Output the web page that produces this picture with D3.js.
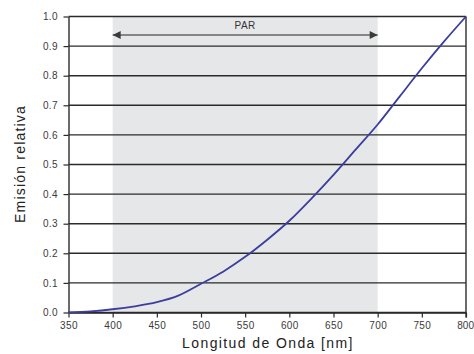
<!DOCTYPE html>
<html><head><meta charset="utf-8">
<script src="https://cdn.jsdelivr.net/npm/d3@7"></script>
<style>body{margin:0;background:#fff}svg{display:block}text{font-family:"Liberation Sans",Arial,sans-serif}</style>
</head><body><svg id="c" width="474" height="354"></svg>
<script>
const wavelengths = [350,375,400,425,450,475,500,525,550,575,600,625,650,675,700,725,750,775,800];
const emission   = [0.0,0.004,0.011,0.021,0.035,0.058,0.097,0.138,0.188,0.246,0.31,0.385,0.465,0.55,0.635,0.73,0.825,0.915,1.0];
const xTicks = [350,400,450,500,550,600,650,700,750,800];
const yTicks = [0,0.1,0.2,0.3,0.4,0.5,0.6,0.7,0.8,0.9,1.0];
const parRange = [400,700];
const parLabel = "PAR";
const xTitle = "Longitud de Onda [nm]";
const yTitle = "Emisión relativa";

const svg = d3.select("#c");
const L=68.5, R=466, T=16.5, B=312.5;
const x = d3.scaleLinear().domain([350,800]).range([L,R]);
const y = d3.scaleLinear().domain([0,1]).range([B,T]);

svg.append("rect").attr("x",x(parRange[0])).attr("y",T).attr("width",x(parRange[1])-x(parRange[0])).attr("height",B-T).attr("fill","#e6e7e8");

// grid
svg.append("g").selectAll("line").data(yTicks).join("line")
  .attr("x1",L).attr("x2",R).attr("y1",d=>y(d)).attr("y2",d=>y(d))
  .attr("stroke","#2b2b2b").attr("stroke-width",1.4);

// axes
const xAxis = svg.append("g").attr("transform",`translate(0,${B})`)
  .call(d3.axisBottom(x).tickValues(xTicks).tickSize(5).tickSizeOuter(0).tickFormat(d3.format("d")));
const yAxis = svg.append("g").attr("transform",`translate(${L},0)`)
  .call(d3.axisLeft(y).tickValues(yTicks).tickSize(5).tickSizeOuter(0).tickFormat(d3.format(".1f")));
[xAxis,yAxis].forEach(g=>{
  g.select(".domain").attr("stroke","#2b2b2b").attr("stroke-width",1.4);
  g.selectAll(".tick line").attr("stroke","#2b2b2b").attr("stroke-width",1.2);
  g.selectAll(".tick text").attr("fill","#3a3a3a").style("font-size","10px").style("letter-spacing","0.4px")
   .style("font-family","'Liberation Sans',Arial,sans-serif");
});
xAxis.selectAll(".tick text").attr("dy","0.85em");
xAxis.selectAll(".tick text").filter(d=>d===800).attr("text-anchor","end").attr("x",7.5).style("letter-spacing","0px");
yAxis.selectAll(".tick text").attr("x",-10.5);
// right border
svg.append("line").attr("x1",R).attr("x2",R).attr("y1",T).attr("y2",B+5).attr("stroke","#2b2b2b").attr("stroke-width",1.4);

// PAR arrow
const defs = svg.append("defs");
defs.append("marker").attr("id","ah").attr("viewBox","0 0 10 10").attr("refX",10).attr("refY",5)
  .attr("markerWidth",10).attr("markerHeight",8).attr("markerUnits","userSpaceOnUse").attr("orient","auto-start-reverse")
  .append("path").attr("d","M0,0L10,5L0,10Z").attr("fill","#3a3a3a");
svg.append("line").attr("x1",x(parRange[0])).attr("x2",x(parRange[1])).attr("y1",35).attr("y2",35)
  .attr("stroke","#666").attr("stroke-width",1.3)
  .attr("marker-start","url(#ah)").attr("marker-end","url(#ah)");
svg.append("text").attr("x",(x(parRange[0])+x(parRange[1]))/2).attr("y",29).attr("text-anchor","middle")
  .attr("fill","#333").style("font-size","10px").style("letter-spacing","0.5px").text(parLabel);

// curve
const line = d3.line().x((d,i)=>x(wavelengths[i])).y(d=>y(d)).curve(d3.curveMonotoneX);
svg.append("path").datum(emission).attr("d",line).attr("fill","none").attr("stroke","#3d3d9e").attr("stroke-width",1.8);

// titles
svg.append("text").attr("x",268).attr("y",347.5).attr("text-anchor","middle").attr("fill","#222")
  .style("font-size","14px").style("letter-spacing","1.4px").text(xTitle);
svg.append("text").attr("transform",`translate(24.5,164) rotate(-90)`).attr("text-anchor","middle").attr("fill","#222")
  .style("font-size","14px").style("letter-spacing","1.2px").text(yTitle);
</script></body></html>
